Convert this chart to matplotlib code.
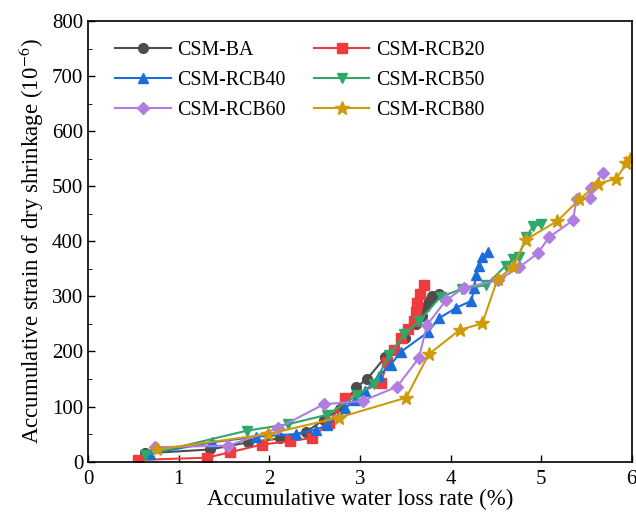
import matplotlib
matplotlib.use('Agg')
import matplotlib.pyplot as plt
from matplotlib.ticker import MultipleLocator

plt.rcParams['font.family'] = ['Liberation Serif', 'DejaVu Serif']
plt.rcParams['mathtext.fontset'] = 'stix'

ba_x = [0.63, 1.35, 1.77, 2.12, 2.40, 2.60, 2.78, 2.96, 3.08, 3.28, 3.50, 3.62, 3.68, 3.72, 3.76, 3.80, 3.87]
ba_y = [15, 22, 35, 42, 53, 76, 95, 135, 150, 190, 225, 250, 265, 280, 292, 300, 305]

rcb20_x = [0.55, 1.31, 1.57, 1.92, 2.23, 2.47, 2.66, 2.84, 3.23, 3.30, 3.38, 3.45, 3.53, 3.60, 3.62, 3.63, 3.66, 3.71]
rcb20_y = [3, 7, 17, 31, 37, 43, 70, 115, 142, 180, 203, 225, 240, 255, 272, 288, 305, 320]

rcb40_x = [0.68, 1.37, 1.85, 2.29, 2.51, 2.64, 2.84, 2.95, 3.06, 3.21, 3.34, 3.45, 3.75, 3.87, 4.06, 4.23, 4.26, 4.28, 4.31, 4.35, 4.41]
rcb40_y = [14, 35, 45, 50, 58, 66, 97, 112, 128, 156, 176, 199, 235, 260, 279, 292, 315, 338, 356, 372, 380]

rcb50_x = [0.63, 1.75, 2.21, 2.64, 2.97, 3.16, 3.32, 3.49, 3.65, 3.89, 4.13, 4.39, 4.61, 4.69, 4.75, 4.83, 4.91, 5.00]
rcb50_y = [12, 56, 68, 85, 121, 141, 193, 232, 255, 299, 314, 320, 356, 368, 372, 407, 427, 431]

rcb60_x = [0.74, 1.55, 2.10, 2.60, 3.03, 3.41, 3.65, 3.74, 3.95, 4.15, 4.52, 4.76, 4.96, 5.09, 5.35, 5.39, 5.54, 5.55, 5.68]
rcb60_y = [26, 29, 61, 104, 110, 136, 188, 248, 293, 316, 329, 353, 378, 408, 438, 476, 478, 496, 524]

rcb80_x = [0.76, 1.99, 2.77, 3.51, 3.76, 4.10, 4.35, 4.52, 4.69, 4.83, 5.18, 5.42, 5.63, 5.83, 5.94, 5.98]
rcb80_y = [22, 50, 80, 116, 195, 239, 251, 332, 353, 403, 437, 476, 505, 514, 542, 550]

series = [
    ('CSM-BA', ba_x, ba_y, 'o', '#4d4d4d'),
    ('CSM-RCB20', rcb20_x, rcb20_y, 's', '#ef3b3e'),
    ('CSM-RCB40', rcb40_x, rcb40_y, '^', '#1c6ddc'),
    ('CSM-RCB50', rcb50_x, rcb50_y, 'v', '#2fa86a'),
    ('CSM-RCB60', rcb60_x, rcb60_y, 'D', '#b07ee0'),
    ('CSM-RCB80', rcb80_x, rcb80_y, '*', '#cf9a0b'),
]

fig = plt.figure(figsize=(6.36, 5.14), dpi=100)
ax = fig.add_axes([0.1384, 0.102, 0.855, 0.857])

handles = []
for name, xs, ys, m, c in series:
    ms = 10 if m == '*' else (6 if m == 'D' else 7)
    h, = ax.plot(xs, ys, marker=m, color=c, lw=1.5, ms=ms, label=name)
    handles.append(h)

ax.set_xlim(0, 6)
ax.set_ylim(0, 800)
ax.xaxis.set_major_locator(MultipleLocator(1))
ax.yaxis.set_major_locator(MultipleLocator(100))
ax.yaxis.set_minor_locator(MultipleLocator(50))
ax.tick_params(direction='in', labelsize=15, length=5, width=1)
ax.tick_params(axis='x', pad=6)
ax.tick_params(which='minor', direction='in', length=3)
for s in ax.spines.values():
    s.set_linewidth(1.2)

ax.set_xlabel('Accumulative water loss rate (%)', fontsize=16.5, labelpad=0)
ax.set_ylabel('Accumulative strain of dry shrinkage (10$^{-6}$)', fontsize=16.5, labelpad=4)

# legend is filled row by row in the original
order = [0, 2, 4, 1, 3, 5]
ax.legend([handles[i] for i in order], [series[i][0] for i in order],
          loc='upper left', ncol=2, frameon=False, fontsize=14.3,
          bbox_to_anchor=(0.035, 0.972), borderaxespad=0, handlelength=2.8,
          columnspacing=1.4, labelspacing=0.55, handletextpad=0.35)

fig.savefig('out.png', dpi=100)
